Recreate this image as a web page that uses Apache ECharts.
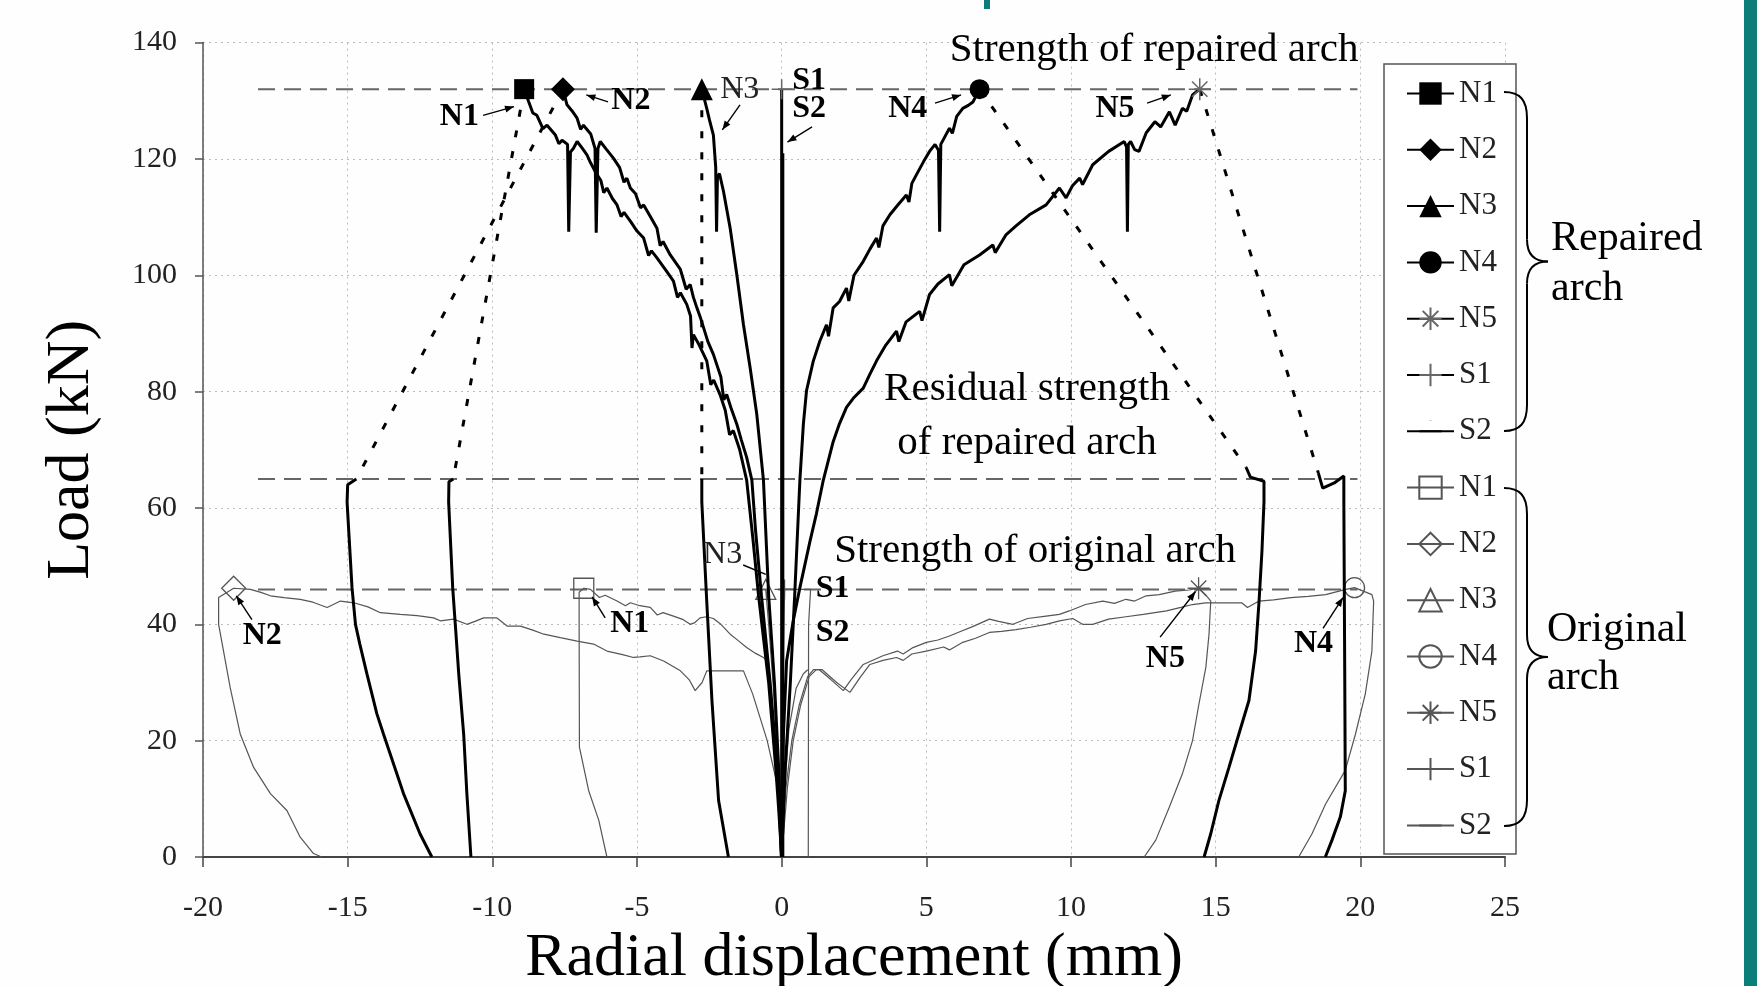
<!DOCTYPE html>
<html lang="en">
<head>
<meta charset="UTF-8">
<title>Load vs radial displacement</title>
<script src="https://cdn.jsdelivr.net/npm/echarts@6.0.0/dist/echarts.min.js"></script>
</head>
<body style="margin:0; background:#fff;">
<div id="chart" style="width:1757px; height:986px;"></div>
<script>
    // axis ranges
    const xMin = -20, xMax = 25, xStep = 5;
    const yMin = 0, yMax = 140, yStep = 20;

    // strength levels (kN) and the span of their dashed lines (mm)
    const strengthLevels = [132, 65, 46];
    const strengthSpan = [-18.1, 19.9];

    // repaired arch: loading curves
    const n1Rep = [[0,0],[-0.1,8],[-0.2,15],[-0.45,30],[-0.8,45],[-1.0,55],[-1.21,64.8],[-1.45,70],[-1.67,73.3],[-1.8,72.6],[-1.95,76.8],[-2.13,79.5],[-2.35,82],[-2.45,81.2],[-2.59,85.3],[-2.85,88],[-3.05,89.8],[-3.1,87.5],[-3.15,93],[-3.28,95],[-3.5,97],[-3.6,96.2],[-3.74,99],[-3.95,100.5],[-4.31,103],[-4.5,104.2],[-4.6,103.4],[-4.77,106.4],[-5.0,107.6],[-5.23,109.3],[-5.45,110.8],[-5.55,110.1],[-5.69,112.1],[-5.85,113.2],[-6.04,115],[-6.15,114.2],[-6.25,116.3],[-6.44,117.8],[-6.6,119.3],[-6.73,120.7],[-6.9,121.9],[-7.07,123],[-7.2,121.8],[-7.3,121.2],[-7.36,107.5],[-7.4,122.5],[-7.59,123.2],[-7.7,122.6],[-7.82,124.1],[-8.11,125.8],[-8.25,125.2],[-8.46,127.5],[-8.6,127.9],[-8.74,129.8],[-8.9,132]];
    const n2Rep = [[0,0],[-0.15,15],[-0.4,30],[-0.7,45],[-0.9,56],[-1.03,64.8],[-1.21,68.7],[-1.4,71.8],[-1.55,74.4],[-1.75,77.2],[-1.9,79.5],[-2.0,78.6],[-2.1,82.5],[-2.36,86.4],[-2.55,88.6],[-2.7,91],[-2.8,92.6],[-2.93,94.4],[-3.05,96.2],[-3.16,98.4],[-3.3,97.6],[-3.5,101],[-3.85,103.5],[-4.1,105.8],[-4.2,105.1],[-4.31,108.1],[-4.55,110.2],[-4.77,112.1],[-4.88,111.6],[-5.05,114],[-5.23,115],[-5.35,116.7],[-5.45,116],[-5.6,118.5],[-5.81,120.1],[-6.05,121.6],[-6.27,123],[-6.35,121.8],[-6.41,107.3],[-6.45,121.8],[-6.6,124.3],[-6.85,125.8],[-6.95,125.1],[-7.07,127],[-7.25,128.3],[-7.42,129.3],[-7.56,132]];
    const n3Rep = [[0,0],[-0.1,15],[-0.25,30],[-0.45,45],[-0.63,64.8],[-0.86,76.1],[-1.09,84.1],[-1.32,91.5],[-1.55,100.1],[-1.78,108.1],[-2.01,114.4],[-2.15,117.5],[-2.22,116.8],[-2.25,107.5],[-2.28,118.6],[-2.36,124.1],[-2.5,126.8],[-2.59,128.7],[-2.76,132]];
    const n4Rep = [[0,0],[0.12,15],[0.3,30],[0.45,45],[0.63,64.8],[0.75,74.4],[0.86,80.2],[1.09,85.2],[1.32,88.7],[1.55,91.5],[1.62,89.5],[1.78,94.4],[2.0,95.5],[2.24,97.8],[2.32,95.6],[2.5,100],[2.82,102.4],[3.05,104.5],[3.28,106.4],[3.36,104.8],[3.5,108.5],[3.74,110.4],[4.0,112],[4.31,113.8],[4.4,112.6],[4.5,115.8],[4.66,117.3],[4.9,119.5],[5.11,121.3],[5.3,122.5],[5.42,121.5],[5.46,107.5],[5.5,122.5],[5.8,125.3],[5.9,124.4],[6.05,127.3],[6.26,128.7],[6.45,129.2],[6.61,129.8],[6.84,132]];
    const n5Rep = [[0,0],[0.06,21],[0.17,33.7],[0.4,40.6],[0.63,46.3],[0.98,54.3],[1.2,59],[1.44,64.8],[1.78,71.4],[2.0,74.5],[2.24,77.3],[2.5,79],[2.82,80.6],[3.05,83],[3.28,85.3],[3.6,88],[3.97,90.4],[4.05,88.6],[4.3,92],[4.77,93.8],[4.85,92.2],[5.11,96.7],[5.4,98.5],[5.8,100.1],[5.88,98.2],[6.3,101.8],[6.84,103.5],[7.3,105.2],[7.38,103.9],[7.76,107],[8.1,108.5],[8.56,110.4],[9.14,112.1],[9.6,115],[9.83,113.3],[10.05,115.4],[10.3,116.7],[10.4,115.6],[10.75,119],[11.3,121.3],[11.84,123],[11.92,122],[11.95,107.5],[11.98,122.5],[12.06,123],[12.2,121.6],[12.35,121.3],[12.6,124.5],[12.9,126.4],[13.1,125.5],[13.4,128.1],[13.6,125.8],[13.85,128.7],[14.0,128.2],[14.2,131],[14.45,132]];
    const s1Rep = [[0,0],[0,132]];
    const s2Rep = [[0.04,0],[0.04,121]];

    // repaired arch: residual drops (dotted) and unloading curves
    const n1Res = [[-8.9,132],[-11.35,65]];
    const n2Res = [[-7.56,132],[-14.7,65]];
    const n3Res = [[-2.76,132],[-2.76,65]];
    const n4Res = [[6.84,132],[16.05,67]];
    const n5Res = [[14.45,132],[18.55,66]];
    const n1Unl = [[-11.35,65],[-11.5,64.5],[-11.51,61],[-11.37,46.3],[-11.28,40],[-11.16,31.4],[-10.99,21.1],[-10.88,10.9],[-10.74,0]];
    const n2Unl = [[-14.7,65],[-15.0,64],[-15.02,61],[-14.85,46.3],[-14.73,40],[-14.58,36.6],[-14.33,31.4],[-13.99,24.6],[-13.76,21.1],[-13.07,10.9],[-12.5,4],[-12.09,0]];
    const n3Unl = [[-2.76,65],[-2.76,61],[-2.59,44],[-2.41,26.9],[-2.18,9.7],[-1.84,0]];
    const n4Unl = [[16.05,67],[16.2,65.3],[16.67,64.6],[16.67,61.1],[16.6,52.6],[16.5,44],[16.38,35.4],[16.15,26.9],[15.8,21.1],[15.46,15.4],[15.11,9.7],[14.83,4],[14.6,0]];
    const n5Unl = [[18.55,66],[18.7,63.4],[19.1,64.3],[19.43,65.5],[19.43,61],[19.46,32.6],[19.48,11.4],[19.31,6.9],[19.02,2.9],[18.79,0]];

    // original arch: full load-unload curves
    const n1Org = [[0,0],[-0.15,12],[-0.3,22],[-0.4,30],[-0.45,33.5],[-0.63,34.3],[-0.9,35],[-1.21,36],[-1.5,37.2],[-1.78,38.3],[-2.1,40],[-2.36,41],[-2.6,41.3],[-2.82,41.1],[-3.0,40.3],[-3.16,40],[-3.4,40.8],[-3.74,41.4],[-4.1,42],[-4.3,41.6],[-4.54,42.9],[-4.9,43.2],[-5.23,43.7],[-5.4,43.2],[-5.69,44],[-6.1,45],[-6.3,44.6],[-6.61,46],[-6.84,46.2],[-7.0,45.5],[-7.0,40],[-6.99,18.9],[-6.67,11.4],[-6.32,6.3],[-6.04,0]];
    const n2Org = [[0,0],[-0.11,11.4],[-0.29,15.4],[-0.5,20],[-0.75,24],[-1.0,28],[-1.32,32],[-2.59,32],[-2.75,30],[-2.99,28.6],[-3.2,30.5],[-3.5,32],[-4.08,33.7],[-4.54,34.6],[-4.9,34.4],[-5.12,34.3],[-5.5,34.8],[-6.04,35.4],[-6.5,36.6],[-7.07,37.1],[-7.65,37.7],[-8.22,38.3],[-8.6,39],[-9.03,39.7],[-9.49,39.7],[-9.84,41.1],[-10.3,41.1],[-10.6,40.5],[-10.88,40],[-11.34,40.9],[-11.8,40.6],[-12.03,41.1],[-12.6,41.5],[-13.18,41.7],[-13.87,42],[-14.3,43],[-14.79,43.7],[-15.25,44],[-15.71,42.9],[-16.2,43.8],[-16.64,44.3],[-17.2,44.6],[-17.67,44.9],[-18.0,45.5],[-18.36,46],[-18.94,46.2],[-19.46,44.6],[-19.46,40],[-19.29,35.4],[-19.06,29.1],[-18.71,21.1],[-18.25,15.4],[-17.67,10.9],[-17.1,8],[-16.64,3.4],[-16.18,0.6],[-15.9,0]];
    const n3Org = [[0,0],[-0.12,15],[-0.3,30],[-0.45,40],[-0.55,46],[-0.45,44],[-0.3,35],[-0.15,20],[-0.05,0]];
    const n4Org = [[0,0],[0.2,12],[0.4,20],[0.65,26],[0.95,31],[1.2,32.2],[1.4,32.2],[1.9,30],[2.36,28.3],[2.7,30.8],[3.05,33.1],[3.5,33.8],[3.97,34.3],[4.2,33.8],[4.5,34.9],[5.0,35.4],[5.6,36.1],[5.8,35.6],[6.26,36.9],[6.7,37.6],[7.18,38.6],[7.6,38.8],[8.1,39.1],[8.6,39.5],[9.14,40],[9.6,40.6],[10.06,41],[10.4,40],[10.75,40],[11.3,40.9],[11.9,41.3],[12.5,41.7],[13.3,42.3],[13.8,42.9],[14.2,43.4],[14.65,43.7],[15.3,43.7],[15.9,43.7],[16.1,42.9],[16.5,44],[17.0,44.2],[17.6,44.6],[18.2,44.8],[18.8,45.1],[19.5,46],[19.8,46.3],[20.4,45.1],[20.46,44],[20.4,35.4],[20.17,28],[19.83,21.1],[19.48,14.9],[18.8,9.1],[18.33,4],[17.87,0]];
    const n5Org = [[0,0],[0.15,12],[0.35,20],[0.6,26],[0.9,31],[1.1,32.2],[1.3,32.2],[1.7,30.5],[2.13,28.6],[2.4,30.5],[2.82,33.1],[3.5,34.6],[4.0,35.4],[4.2,34.9],[4.54,36],[5.0,36.9],[5.4,37.3],[5.8,38],[6.2,38.8],[6.6,39.6],[7.18,40.9],[7.5,40.5],[7.99,40],[8.5,41],[9.14,41.4],[9.6,41.7],[9.94,42.3],[10.5,43.4],[11.1,44],[11.5,43.6],[11.9,44.3],[12.2,44],[12.6,44.9],[13.05,45.1],[13.6,45.7],[14.08,45.9],[14.41,46.2],[14.65,45.1],[14.83,44],[14.77,38.3],[14.66,32.6],[14.4,25.7],[14.2,20],[13.85,14.3],[13.4,8.6],[12.93,2.9],[12.53,0]];
    const s1Org = [[0,0],[0.05,30],[0.1,46],[1.0,46],[0.93,40],[0.92,0]];
    const s2Org = [[0,0],[0.08,10],[0.25,22],[0.5,29],[0.75,31.5],[0.9,32.2]];

    const FONT = 'Liberation Serif';
    const STAR = 'path://M10,0L10,20M0,10L20,10M3,3L17,17M3,17L17,3';
    const PLUS = 'path://M10,0L10,20M0,10L20,10';
    // legend-only marker for the plain S2 lines: a dash, with two near-zero ticks to keep a square box
    const DASH = 'path://M0,10L20,10M10,0L10,0.05M10,19.95L10,20';

    const repaired = [
        { name: 'N1', load: n1Rep, res: n1Res, unl: n1Unl, symbol: 'rect', size: 20 },
        { name: 'N2', load: n2Rep, res: n2Res, unl: n2Unl, symbol: 'diamond', size: 24 },
        { name: 'N3', load: n3Rep, res: n3Res, unl: n3Unl, symbol: 'triangle', size: 22 },
        { name: 'N4', load: n4Rep, res: n4Res, unl: n4Unl, symbol: 'circle', size: 20 },
        { name: 'N5', load: n5Rep, res: n5Res, unl: n5Unl, symbol: STAR, size: 22 },
        { name: 'S1', load: s1Rep, symbol: PLUS, size: 20 },
        { name: 'S2', load: s2Rep, symbol: DASH, size: 0 }
    ];
    const original = [
        { name: 'N1 org', data: n1Org, symbol: 'rect', size: 20 },
        { name: 'N2 org', data: n2Org, symbol: 'diamond', size: 24 },
        { name: 'N3 org', data: n3Org, symbol: 'triangle', size: 20 },
        { name: 'N4 org', data: n4Org, symbol: 'circle', size: 20 },
        { name: 'N5 org', data: n5Org, symbol: STAR, size: 22 },
        { name: 'S1 org', data: s1Org, symbol: PLUS, size: 20 },
        { name: 'S2 org', data: s2Org, symbol: DASH, size: 0 }
    ];

    // put the marker only on the peak point of each curve
    function markPeak(points, symbol) {
        let k = 0;
        points.forEach((p, i) => { if (p[1] > points[k][1]) k = i; });
        return points.map((p, i) => ({ value: p, symbol: i === k ? symbol : 'none' }));
    }

    const series = [];

    strengthLevels.forEach(level => {
        series.push({
            type: 'line', data: [[strengthSpan[0], level], [strengthSpan[1], level]],
            symbol: 'none', silent: true, z: 1,
            lineStyle: { color: '#666', width: 2, type: [17, 9] }
        });
    });

    original.forEach(o => {
        series.push({
            name: o.name, type: 'line', data: markPeak(o.data, o.size ? o.symbol : 'none'),
            symbol: o.symbol, symbolSize: o.size, showSymbol: true, z: 2,
            lineStyle: { color: '#555', width: 1.2 },
            itemStyle: { color: 'rgba(0,0,0,0)', borderColor: '#555', borderWidth: 1.3 }
        });
    });

    repaired.forEach(r => {
        const stroked = r.symbol.startsWith('path://');
        series.push({
            name: r.name, type: 'line', data: markPeak(r.load, r.size ? r.symbol : 'none'),
            symbol: r.symbol, symbolSize: r.size, showSymbol: true, z: 4,
            lineStyle: { color: '#000', width: 3 },
            itemStyle: stroked
                ? { color: 'rgba(0,0,0,0)', borderColor: r.symbol === DASH ? '#000' : '#666', borderWidth: r.symbol === DASH ? 3 : 1.5 }
                : { color: '#000' }
        });
        if (r.res) {
            series.push({
                type: 'line', data: r.res, symbol: 'none', z: 3,
                lineStyle: { color: '#000', width: 3, type: [7, 14] }
            });
            series.push({
                type: 'line', data: r.unl, symbol: 'none', z: 3,
                lineStyle: { color: '#000', width: 3 }
            });
        }
    });

    const chart = echarts.init(document.getElementById('chart'));

    const option = {
        animation: false,
        backgroundColor: '#fefefe',
        grid: { left: 203, right: 252, top: 42.6, bottom: 129, outerBoundsMode: 'none' },
        xAxis: {
            type: 'value', min: xMin, max: xMax, interval: xStep,
            name: 'Radial displacement (mm)', nameLocation: 'middle', nameGap: 68,
            nameTextStyle: { fontFamily: FONT, fontSize: 62, color: '#000' },
            axisLine: { show: true, onZero: false, lineStyle: { color: '#444', width: 2 } },
            axisTick: { show: true, length: 10, lineStyle: { color: '#444', width: 1.5 } },
            axisLabel: { margin: 36, fontFamily: FONT, fontSize: 30, color: '#222' },
            splitLine: { show: true, lineStyle: { color: '#bbb', width: 1, type: [2, 4] } }
        },
        yAxis: {
            type: 'value', min: yMin, max: yMax, interval: yStep,
            name: 'Load (kN)', nameLocation: 'middle', nameGap: 100, nameRotate: 90,
            nameTextStyle: { fontFamily: FONT, fontSize: 62, color: '#000' },
            axisLine: { show: true, onZero: false, lineStyle: { color: '#555', width: 1.5 } },
            axisTick: { show: true, length: 8, lineStyle: { color: '#555', width: 1.5 } },
            axisLabel: { margin: 26, fontFamily: FONT, fontSize: 30, color: '#222' },
            splitLine: { show: true, lineStyle: { color: '#bbb', width: 1, type: [2, 4] } }
        },
        legend: {
            data: repaired.map(r => r.name).concat(original.map(o => o.name)),
            orient: 'vertical', left: 1406, top: 78, padding: 0,
            itemWidth: 47, itemHeight: 28, itemGap: 25.3,
            selectedMode: false, z: 11,
            formatter: n => n.split(' ')[0],
            textStyle: { fontFamily: FONT, fontSize: 31, color: '#222', lineHeight: 28 }
        },
        series: series
    };

    chart.setOption(option);

    // annotations, placed in data units
    const bigNotes = [
        { text: 'Strength of repaired arch', at: [12.87, 138.7] },
        { text: 'Residual strength', at: [8.48, 80.4] },
        { text: 'of repaired arch', at: [8.48, 71.2] },
        { text: 'Strength of original arch', at: [8.76, 52.6] }
    ];
    const tags = [
        { text: 'N1', at: [-11.14, 127.3], bold: true, arrow: [[-10.32, 127.5], [-9.25, 129.0]] },
        { text: 'N2', at: [-5.21, 130.0], bold: true, arrow: [[-6.0, 129.8], [-6.75, 131.0]] },
        { text: 'N3', at: [-1.45, 131.9], bold: false, arrow: [[-1.44, 129.3], [-2.05, 125.0]] },
        { text: 'S1', at: [0.95, 133.5], bold: true },
        { text: 'S2', at: [0.95, 128.6], bold: true, arrow: [[1.05, 125.5], [0.2, 122.9]] },
        { text: 'N4', at: [4.36, 128.6], bold: true, arrow: [[5.3, 129.6], [6.2, 131.0]] },
        { text: 'N5', at: [11.52, 128.6], bold: true, arrow: [[12.63, 129.6], [13.45, 131.0]] },
        { text: 'N2', at: [-17.95, 38.1], bold: true, arrow: [[-18.31, 40.8], [-18.85, 44.9]] },
        { text: 'N1', at: [-5.25, 40.1], bold: true, arrow: [[-6.1, 41.1], [-6.55, 44.7]] },
        { text: 'N3', at: [-2.04, 52.0], bold: false, leader: [[-1.33, 50.2], [-0.55, 48.6]] },
        { text: 'S1', at: [1.76, 46.2], bold: true },
        { text: 'S2', at: [1.76, 38.5], bold: true },
        { text: 'N5', at: [13.26, 34.1], bold: true, arrow: [[13.08, 37.8], [14.3, 45.6]] },
        { text: 'N4', at: [18.38, 36.6], bold: true, arrow: [[18.71, 39.3], [19.4, 44.6]] }
    ];

    const toPx = p => chart.convertToPixel({ xAxisIndex: 0, yAxisIndex: 0 }, p);

    function arrowShapes(from, to, withHead) {
        const a = toPx(from), b = toPx(to);
        const out = [{
            type: 'line', z: 20,
            shape: { x1: a[0], y1: a[1], x2: b[0], y2: b[1] },
            style: { stroke: '#000', lineWidth: 1.4 }
        }];
        if (withHead) {
            const dx = b[0] - a[0], dy = b[1] - a[1];
            const len = Math.hypot(dx, dy) || 1;
            const ux = dx / len, uy = dy / len;
            const L = 9, W = 3.5;
            out.push({
                type: 'polygon', z: 20,
                shape: { points: [
                    [b[0], b[1]],
                    [b[0] - ux * L - uy * W, b[1] - uy * L + ux * W],
                    [b[0] - ux * L + uy * W, b[1] - uy * L - ux * W]
                ] },
                style: { fill: '#000' }
            });
        }
        return out;
    }

    // curly brace "}" from y0 to y1, back at x0, spine at xs, tip at xt
    function brace(x0, xs, xt, y0, y1) {
        const ym = (y0 + y1) / 2;
        const st = { stroke: '#000', lineWidth: 2, fill: null };
        const bz = (x1, y1_, c1x, c1y, c2x, c2y, x2, y2) => ({
            type: 'bezierCurve', z: 20, style: st,
            shape: { x1: x1, y1: y1_, cpx1: c1x, cpy1: c1y, cpx2: c2x, cpy2: c2y, x2: x2, y2: y2 }
        });
        const ln = (ya, yb) => ({ type: 'line', z: 20, style: st, shape: { x1: xs, y1: ya, x2: xs, y2: yb } });
        return [
            bz(x0, y0, x0 + 16, y0, xs, y0 + 8, xs, y0 + 26),
            ln(y0 + 26, ym - 22),
            bz(xs, ym - 22, xs, ym - 7, xs + 8, ym, xt, ym),
            bz(xt, ym, xs + 8, ym, xs, ym + 7, xs, ym + 22),
            ln(ym + 22, y1 - 26),
            bz(xs, y1 - 26, xs, y1 - 8, x0 + 16, y1, x0, y1)
        ];
    }

    const graphic = [];

    bigNotes.forEach(n => {
        const p = toPx(n.at);
        graphic.push({
            type: 'text', x: p[0], y: p[1], z: 20,
            style: { text: n.text, fontFamily: FONT, fontSize: 41, fill: '#000', align: 'center', verticalAlign: 'middle' }
        });
    });

    tags.forEach(t => {
        const p = toPx(t.at);
        graphic.push({
            type: 'text', x: p[0], y: p[1], z: 20,
            style: { text: t.text, fontFamily: FONT, fontSize: 32, fontWeight: t.bold ? 'bold' : 'normal',
                     fill: t.bold ? '#000' : '#222', align: 'center', verticalAlign: 'middle' }
        });
        if (t.arrow) graphic.push(...arrowShapes(t.arrow[0], t.arrow[1], true));
        if (t.leader) graphic.push(...arrowShapes(t.leader[0], t.leader[1], false));
    });

    // legend frame
    graphic.push({
        type: 'rect', z: 10,
        shape: { x: 1384, y: 64, width: 132, height: 790 },
        style: { fill: '#fff', stroke: '#555', lineWidth: 1.5 }
    });

    // braces and group names
    graphic.push(...brace(1504, 1527, 1548, 92, 431));
    graphic.push(...brace(1504, 1527, 1548, 488, 826));
    [['Repaired', 1551, 239], ['arch', 1551, 289], ['Original', 1547, 630], ['arch', 1547, 678]].forEach(g => {
        graphic.push({
            type: 'text', x: g[1], y: g[2], z: 20,
            style: { text: g[0], fontFamily: FONT, fontSize: 42, fill: '#000', align: 'left', verticalAlign: 'middle' }
        });
    });

    // slide frame: teal bar at the right and a clipped title glyph at the top
    graphic.push({ type: 'rect', z: 20, shape: { x: 1744, y: 0, width: 13, height: 986 }, style: { fill: '#0b7e79' } });
    graphic.push({ type: 'rect', z: 20, shape: { x: 984, y: 0, width: 6, height: 9 }, style: { fill: '#0b7e79' } });

    chart.setOption({ graphic: graphic });
</script>
</body>
</html>
